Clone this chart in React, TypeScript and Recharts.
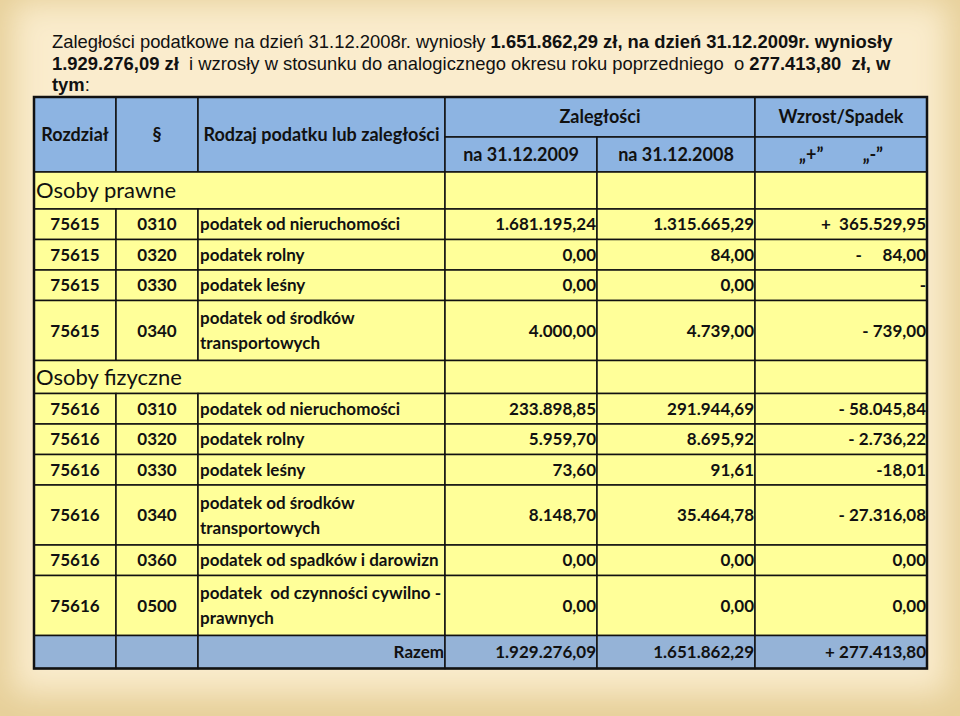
import React from 'react';
import { ComposedChart, XAxis, YAxis, ReferenceArea } from 'recharts';

// table content
const sectionLabels = ['Osoby prawne', 'Osoby fizyczne'];
const sectionChapters = ['75615', '75616'];
const chapters = ['75615', '75615', '75615', '75615', '75616', '75616', '75616', '75616', '75616', '75616'];
const paragraphs = ['0310', '0320', '0330', '0340', '0310', '0320', '0330', '0340', '0360', '0500'];
const taxNames = [
  'podatek od nieruchomości',
  'podatek rolny',
  'podatek leśny',
  'podatek od środków\ntransportowych',
  'podatek od nieruchomości',
  'podatek rolny',
  'podatek leśny',
  'podatek od środków\ntransportowych',
  'podatek od spadków i darowizn',
  'podatek  od czynności cywilno -\nprawnych',
];
const arrears2009 = [1681195.24, 0, 0, 4000, 233898.85, 5959.7, 73.6, 8148.7, 0, 0];
const arrears2008 = [1315665.29, 84, 0, 4739, 291944.69, 8695.92, 91.61, 35464.78, 0, 0];
const changeLabels = ['+  365.529,95', '-     84,00', '-', '- 739,00', '- 58.045,84', '- 2.736,22', '-18,01', '- 27.316,08', '0,00', '0,00'];
const totals = [1929276.09, 1651862.29];
const totalChange = '+ 277.413,80';
const totalLabel = 'Razem';
const headerLabels = ['Rozdział', '§', 'Rodzaj podatku lub zaległości'];
const groupHeaders = ['Zaległości', 'Wzrost/Spadek'];
const subHeaders = ['na 31.12.2009', 'na 31.12.2008', '„+”         „-”'];

// layout
const COL_W = [82, 82, 247, 152, 158, 172];
const colX = COL_W.reduce((acc, w) => [...acc, acc[acc.length - 1] + w], [0]);
const TABLE_W = colX[colX.length - 1];
const HEAD_TOP = 40;
const HEAD_H = 75;
const SECTION_H = [37, 33];
const ROW_H = 30.5;
const ROW2_H = 60;
const TOTAL_H = 33;
const BLUE = '#8DB4E2';
const BLUE_TOTAL = '#95B3D7';
const YELLOW = '#FFFF99';
const FONT = 'Lato, "Noto Sans", sans-serif';

const fmt = (v: number) => {
  const [i, d] = v.toFixed(2).split('.');
  return i.replace(/\B(?=(\d{3})+(?!\d))/g, '.') + ',' + d;
};

type Cell = {
  x1: number; x2: number; y1: number; y2: number;
  fill: string; text: string; align: 'left' | 'right' | 'center';
  size: number; weight: number;
};

const cells: Cell[] = [];
const add = (x1: number, x2: number, y1: number, y2: number, fill: string, text = '', align: Cell['align'] = 'center', size = 17, weight = 700) =>
  cells.push({ x1, x2, y1, y2, fill, text, align, size, weight });

headerLabels.forEach((t, i) => add(colX[i], colX[i + 1], 0, HEAD_H, BLUE, t, 'center', 18));
add(colX[3], colX[5], 0, HEAD_TOP, BLUE, groupHeaders[0], 'center', 18);
add(colX[5], colX[6], 0, HEAD_TOP, BLUE, groupHeaders[1], 'center', 18);
subHeaders.forEach((t, i) => add(colX[3 + i], colX[4 + i], HEAD_TOP, HEAD_H, BLUE, t, 'center', 18));

let y = HEAD_H;
sectionLabels.forEach((label, s) => {
  const sh = SECTION_H[s];
  add(0, colX[3], y, y + sh, YELLOW, label, 'left', 22, 400);
  for (let c = 3; c < 6; c++) add(colX[c], colX[c + 1], y, y + sh, YELLOW);
  y += sh;
  chapters.forEach((ch, r) => {
    if (ch !== sectionChapters[s]) return;
    const h = taxNames[r].includes('\n') ? ROW2_H : ROW_H;
    const texts = [ch, paragraphs[r], taxNames[r], fmt(arrears2009[r]), fmt(arrears2008[r]), changeLabels[r]];
    const aligns: Cell['align'][] = ['center', 'center', 'left', 'right', 'right', 'right'];
    texts.forEach((t, c) => add(colX[c], colX[c + 1], y, y + h, YELLOW, t, aligns[c]));
    y += h;
  });
});
const totalTexts = ['', '', totalLabel, fmt(totals[0]), fmt(totals[1]), totalChange];
totalTexts.forEach((t, c) => add(colX[c], colX[c + 1], y, y + TOTAL_H, BLUE_TOTAL, t, 'right'));
y += TOTAL_H;
const TABLE_H = y;

const cellLabel = (cell: Cell) => (props: any) => {
  const vb = props.viewBox || props;
  if (!cell.text) return null;
  const { x, y: top, width, height } = vb;
  const lines = cell.text.split('\n');
  const lh = 25;
  const tx = cell.align === 'left' ? x + 2 : cell.align === 'right' ? x + width - 1 : x + width / 2;
  const anchor = cell.align === 'left' ? 'start' : cell.align === 'right' ? 'end' : 'middle';
  const base = top + height / 2 - ((lines.length - 1) * lh) / 2 + cell.size * 0.36;
  return (
    <text
      x={tx}
      y={base}
      textAnchor={anchor}
      fontFamily={FONT}
      fontSize={cell.size}
      fontWeight={cell.weight}
      fill="#111"
      style={{ whiteSpace: 'pre' }}
    >
      {lines.map((l, i) => (
        <tspan key={i} x={tx} dy={i === 0 ? 0 : lh}>
          {l}
        </tspan>
      ))}
    </text>
  );
};

export default function App() {
  const top = 97;
  const left = 34;
  return (
    <div
      style={{
        position: 'absolute',
        left: 0,
        top: 0,
        width: 960,
        height: 716,
        background: '#FAECCD',
        boxShadow: 'inset 0 -10px 32px 12px #E6CF98',
        overflow: 'hidden',
      }}
    >
      <div
        style={{
          position: 'absolute',
          left: 52,
          top: 31,
          font: '18.4px "Liberation Sans", Arial, sans-serif',
          lineHeight: '21.5px',
          color: '#111',
          whiteSpace: 'pre',
        }}
      >
        <div>
          Zaległości podatkowe na dzień 31.12.2008r. wyniosły <b>{fmt(totals[1])} zł, na dzień 31.12.2009r. wyniosły</b>
        </div>
        <div>
          <b>{fmt(totals[0])} zł</b>  i wzrosły w stosunku do analogicznego okresu roku poprzedniego  o <b>{fmt(totals[0] - totals[1])}  zł, w</b>
        </div>
        <div>
          <b>tym</b>:
        </div>
      </div>
      <div style={{ position: 'absolute', left: 0, top: 0 }}>
        <ComposedChart
          width={960}
          height={716}
          data={[]}
          margin={{ top, left, right: 960 - left - TABLE_W, bottom: 716 - top - TABLE_H }}
        >
          <XAxis type="number" dataKey="x" domain={[0, TABLE_W]} allowDataOverflow hide />
          <YAxis type="number" dataKey="y" domain={[0, TABLE_H]} allowDataOverflow reversed hide />
          {cells.map((c, i) => (
            <ReferenceArea
              key={i}
              x1={c.x1}
              x2={c.x2}
              y1={c.y1}
              y2={c.y2}
              fill={c.fill}
              fillOpacity={1}
              stroke="#111"
              strokeWidth={1.5}
              strokeOpacity={1}
              ifOverflow="visible"
              label={cellLabel(c)}
            />
          ))}
          <ReferenceArea
            x1={0}
            x2={TABLE_W}
            y1={0}
            y2={TABLE_H}
            fill="none"
            stroke="#111"
            strokeWidth={2.5}
            ifOverflow="visible"
          />
        </ComposedChart>
      </div>
    </div>
  );
}
